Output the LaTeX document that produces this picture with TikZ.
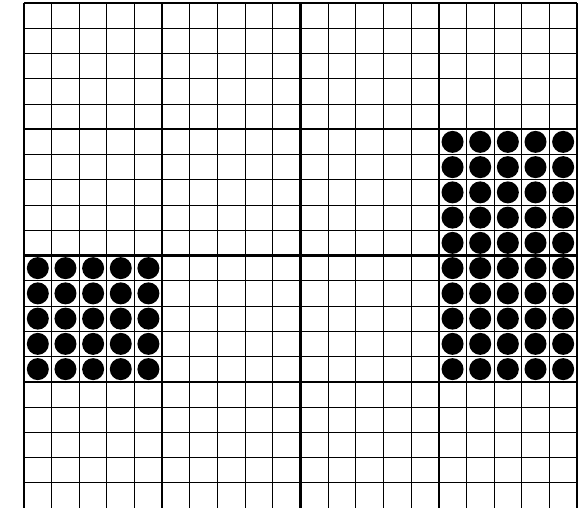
\documentclass[tikz,border=0pt]{standalone}
\usepackage{tikz}
\begin{document}
\begin{tikzpicture}[x=27.65pt, y=-25.25pt,
  cellline/.style={line width=1pt},
  blockline/.style={line width=2.2pt},
  stone/.style={fill=black}]
  \useasboundingbox (-0.868,-0.119) rectangle (20.29,20);
  % thin cell lines
  \foreach \i in {1,...,19} \draw[cellline] (\i,0) -- (\i,20);
  \foreach \j in {1,...,19} \draw[cellline] (0,\j) -- (20,\j);
  % thick block lines
  \foreach \i in {0,5,...,20} \draw[blockline] (\i,0) -- (\i,20);
  \foreach \j in {0,5,10,15} \draw[blockline] (0,\j) -- (20,\j);
  % stones, left block
  \foreach \i in {0,...,4}
    \foreach \j in {10,...,14}
      \fill[stone] (\i+0.5,\j+0.5) circle[radius=11pt];
  % stones, right block
  \foreach \i in {15,...,19}
    \foreach \j in {5,...,14}
      \fill[stone] (\i+0.5,\j+0.5) circle[radius=11pt];
\end{tikzpicture}
\end{document}
